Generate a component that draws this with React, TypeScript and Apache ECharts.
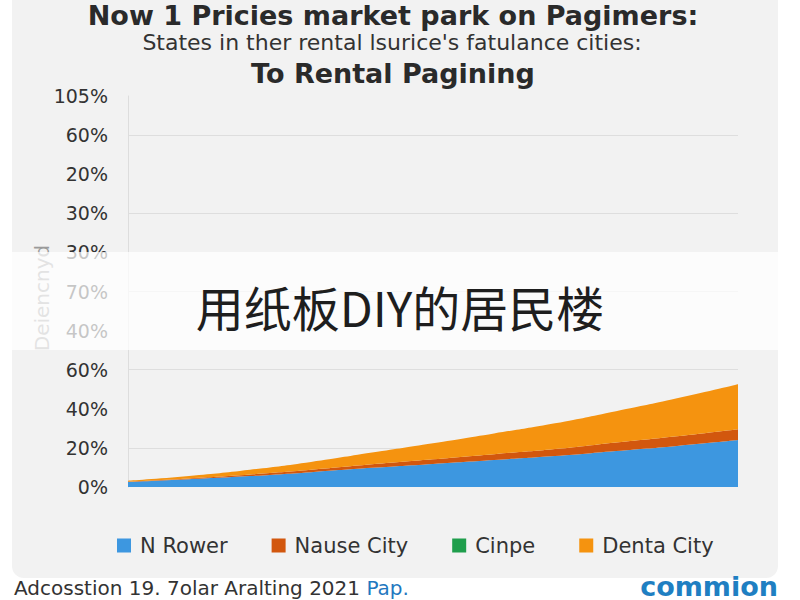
import React, { useEffect, useRef } from "react";
import * as echarts from "echarts";

const categories = ["1", "2", "3", "4", "5", "6", "7", "8", "9", "10", "11"];
const yTickLabels = ["0%", "20%", "40%", "60%", "40%", "70%", "30%", "30%", "20%", "60%", "105%"];
const yAxisTitle = "Deiencnyd";
const seriesNames = ["N Rower", "Nause City", "Cinpe", "Denta City"];
const nRower = [1.3, 2.0, 2.8, 3.8, 4.9, 5.9, 6.9, 7.9, 9.2, 10.5, 12.0];
const nauseCity = [0.1, 0.2, 0.4, 0.6, 0.9, 1.2, 1.5, 1.8, 2.2, 2.5, 2.8];
const cinpe = [0, 0, 0, 0, 0, 0, 0, 0, 0, 0, 0];
const dentaCity = [0.2, 0.6, 1.2, 2.0, 3.0, 4.1, 5.3, 6.6, 8.0, 9.7, 11.5];
const colors = ["#3d97e0", "#d2570e", "#1f9e4c", "#f5930f"];

export default function App() {
  const ref = useRef<HTMLDivElement>(null);
  useEffect(() => {
    if (!ref.current) return;
    const chart = echarts.init(ref.current, undefined, { renderer: "svg" });
    const data = [nRower, nauseCity, cinpe, dentaCity];
    chart.setOption({
      animation: false,
      backgroundColor: "#ffffff",
      color: colors,
      grid: { left: 128, right: 62, top: 96, bottom: 113 },
      legend: {
        data: seriesNames,
        top: 530,
        left: 112,
        icon: "rect",
        itemWidth: 14,
        itemHeight: 14,
        itemGap: 44,
        textStyle: {
          fontSize: 21,
          color: "#333",
          fontFamily: "DejaVu Sans",
          padding: [0, 0, 0, 4],
        },
      },
      xAxis: {
        type: "category",
        data: categories,
        boundaryGap: false,
        axisLine: { show: false },
        axisTick: { show: false },
        axisLabel: { show: false },
        splitLine: { show: false },
      },
      yAxis: {
        type: "value",
        min: 0,
        max: 100,
        interval: 10,
        axisLine: { show: true, lineStyle: { color: "#dddddd" } },
        axisTick: { show: false },
        axisLabel: {
          margin: 20,
          fontSize: 19,
          color: "#333",
          fontFamily: "DejaVu Sans",
          formatter: (v: number) => yTickLabels[Math.round(v / 10)] ?? "",
        },
        splitLine: {
          show: true,
          lineStyle: { color: ["transparent", "#dedede"], width: 1 },
        },
      },
      series: seriesNames.map((name, i) => ({
        name,
        type: "line",
        stack: "total",
        smooth: true,
        showSymbol: false,
        symbol: "none",
        lineStyle: { width: 0 },
        areaStyle: { color: colors[i], opacity: 1 },
        data: data[i],
      })),
      graphic: [
        {
          type: "rect",
          z: -10,
          shape: { x: 12, y: -12, width: 766, height: 590, r: 12 },
          style: { fill: "#f2f2f2" },
        },
        {
          type: "text",
          x: 393,
          y: 15,
          style: {
            text: "Now 1 Pricies market park on Pagimers:",
            font: "bold 27px 'DejaVu Sans'",
            fill: "#2a2a2a",
            align: "center",
            verticalAlign: "middle",
          },
        },
        {
          type: "text",
          x: 392,
          y: 42,
          style: {
            text: "States in ther rental lsurice's fatulance cities:",
            font: "22px 'DejaVu Sans'",
            fill: "#333",
            align: "center",
            verticalAlign: "middle",
          },
        },
        {
          type: "text",
          x: 393,
          y: 73,
          style: {
            text: "To Rental Pagining",
            font: "bold 27px 'DejaVu Sans'",
            fill: "#2a2a2a",
            align: "center",
            verticalAlign: "middle",
          },
        },
        {
          type: "text",
          x: 42,
          y: 298,
          rotation: Math.PI / 2,
          z: 5,
          style: {
            text: yAxisTitle,
            font: "20px 'DejaVu Sans'",
            fill: "#9a9a9a",
            align: "center",
            verticalAlign: "middle",
          },
        },
        {
          type: "rect",
          z: 100,
          shape: { x: 12, y: 252, width: 766, height: 98 },
          style: { fill: "rgba(255,255,255,0.72)" },
        },
        {
          type: "text",
          z: 101,
          x: 400,
          y: 306,
          style: {
            text: "用纸板DIY的居民楼",
            font: "48px 'Noto Sans CJK SC'",
            fill: "#1e1e1e",
            align: "center",
            verticalAlign: "middle",
          },
        },
        {
          type: "text",
          left: 14,
          top: 578,
          style: {
            text: "{a|Adcosstion 19. 7olar Aralting 2021 }{b|Pap.}",
            rich: {
              a: { font: "20px 'DejaVu Sans'", fill: "#333" },
              b: { font: "20px 'DejaVu Sans'", fill: "#1f78c0" },
            },
          },
        },
        {
          type: "text",
          x: 778,
          y: 586,
          style: {
            text: "commion",
            font: "bold 27px 'DejaVu Sans'",
            fill: "#1f7fc2",
            align: "right",
            verticalAlign: "middle",
          },
        },
      ],
    });
    return () => chart.dispose();
  }, []);
  return (
    <div
      ref={ref}
      style={{ position: "fixed", left: 0, top: 0, width: 800, height: 600 }}
    />
  );
}
